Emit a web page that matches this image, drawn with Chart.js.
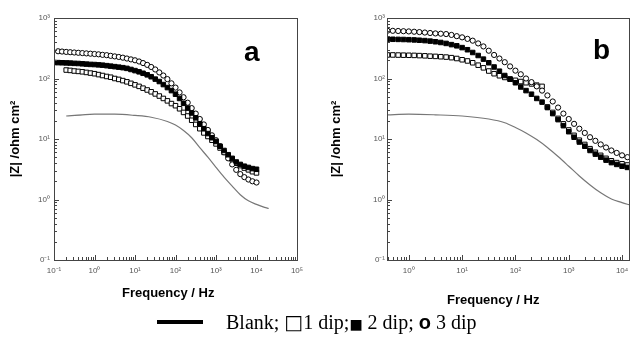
<!DOCTYPE html>
<html>
<head>
<meta charset="utf-8">
<script src="https://cdn.jsdelivr.net/npm/chart.js@4.4.1/dist/chart.umd.min.js"></script>
<style>
  html, body { margin: 0; padding: 0; background: #fff; width: 631px; height: 339px; overflow: hidden; }
  canvas { position: absolute; top: 0; }
  #chartA { left: 0; }
  #chartB { left: 320px; }
  .tag { position: absolute; font: bold 28px Arial, "Liberation Sans", sans-serif; color: #000; line-height: 1; }
  .xtitle { position: absolute; font: bold 13px Arial, "Liberation Sans", sans-serif; color: #000; white-space: nowrap; }
  #legLine { position: absolute; left: 157px; top: 320px; width: 46px; height: 4px; background: #000; }
  #legText { position: absolute; left: 226px; top: 310px; font: 20px "Liberation Serif", "Times New Roman", serif; color: #000; white-space: nowrap; }
</style>
</head>
<body>
<canvas id="chartA" width="315" height="310"></canvas>
<canvas id="chartB" width="340" height="310"></canvas>
<div class="tag" style="left:244px; top:38px;">a</div>
<div class="tag" style="left:593px; top:36px;">b</div>
<div class="xtitle" style="left:122px; top:285px;">Frequency / Hz</div>
<div class="xtitle" style="left:447px; top:292px;">Frequency / Hz</div>
<div id="legLine"></div>
<div id="legText">Blank; <span style="font-family:'DejaVu Sans'">□</span>1 dip;<span style="font-family:'DejaVu Sans';font-size:14px">■</span> 2 dip;  <b style="font-family:Arial">o</b> 3 dip</div>
<script>
// panel a : frequency (Hz), 10 points per decade
var freqA = [0.1, 0.126, 0.158, 0.2, 0.251, 0.316, 0.398, 0.501, 0.631, 0.794,
  1, 1.26, 1.58, 2, 2.51, 3.16, 3.98, 5.01, 6.31, 7.94,
  10, 12.6, 15.8, 20, 25.1, 31.6, 39.8, 50.1, 63.1, 79.4,
  100, 126, 158, 200, 251, 316, 398, 501, 631, 794,
  1000, 1260, 1580, 2000, 2510, 3160, 3980, 5010, 6310, 7940, 10000];

var dip1A = [null, null, null, 138, 136, 133, 131, 129, 126, 123,
  120, 116, 112, 108, 105, 100, 96.6, 92.3, 88.1, 83.2,
  78.5, 74.1, 69.2, 64.6, 60.3, 55.6, 51.3, 46.8, 42.7, 38.5,
  35.5, 31.6, 27.5, 24.0, 20.4, 17.4, 14.8, 12.6, 11.0, 9.55,
  8.3, 7.1, 6.0, 5.25, 4.57, 3.98, 3.63, 3.31, 3.09, 2.88, 2.75];

var dip2A = [184, 183, 182, 181, 180, 178, 177, 175, 173, 171,
  170, 168, 166, 163, 160, 157, 154, 151, 147, 141,
  135, 129, 122, 115, 107, 97.7, 89.1, 79.4, 70.8, 63.1,
  55.0, 46.8, 38.9, 32.4, 26.9, 22.4, 17.8, 14.8, 12.3, 10.5,
  9.1, 7.6, 6.46, 5.5, 4.79, 4.17, 3.8, 3.55, 3.39, 3.24, 3.16];

var dip3A = [null, 282, 279, 275, 272, 269, 266, 263, 260, 257,
  254, 251, 246, 243, 237, 232, 227, 221, 214, 207,
  200, 191, 180, 168, 155, 141, 126, 112, 97.7, 83.2,
  70.8, 58.9, 49.0, 39.8, 32.4, 26.3, 21.4, 17.4, 14.1, 11.5,
  9.55, 7.59, 6.03, 4.79, 3.80, 3.09, 2.63, 2.34, 2.14, 2.00, 1.91];

var blankFreqA = [0.2, 0.5, 1, 3.16, 10, 25.1, 63.1, 100, 158, 251, 398, 631, 1000, 1580, 2510, 3980, 6310, 10000, 15800, 20000];
var blankA = [24.0, 25.1, 25.7, 25.7, 24.5, 22.9, 19.5, 17.0, 13.8, 10.5, 7.2, 5.0, 3.4, 2.34, 1.66, 1.2, 0.95, 0.83, 0.74, 0.71];

// panel b
var freqB = [0.398, 0.501, 0.631, 0.794,
  1, 1.26, 1.58, 2, 2.51, 3.16, 3.98, 5.01, 6.31, 7.94,
  10, 12.6, 15.8, 20, 25.1, 31.6, 39.8, 50.1, 63.1, 79.4,
  100, 126, 158, 200, 251, 316, 398, 501, 631, 794,
  1000, 1260, 1580, 2000, 2510, 3160, 3980, 5010, 6310, 7940, 10000, 12600];

var dip1B = [245, 245, 244, 243,
  242, 241, 239, 237, 234, 232, 229, 226, 221, 214,
  204, 195, 182, 166, 150, 133, 120, 111, 104, 97.7,
  93.3, 89.1, 85.1, 81.3, 77.6, 74.1, 33.9, 27.5, 21.9, 17.8,
  14.1, 11.5, 9.55, 8.13, 6.92, 6.03, 5.37, 4.79, 4.37, 4.07, 3.89, 3.72];

var dip2B = [447, 445, 443, 441,
  438, 434, 429, 423, 415, 405, 394, 380, 363, 347,
  324, 299, 269, 240, 209, 182, 155, 132, 112, 97.7,
  85.1, 72.4, 63.1, 55.0, 46.8, 40.7, 33.1, 26.3, 20.9, 16.6,
  13.2, 10.7, 8.91, 7.59, 6.46, 5.62, 5.01, 4.47, 4.07, 3.80, 3.55, 3.39];

var dip3B = [617, 614, 610, 605,
  600, 593, 585, 575, 565, 556, 550, 543, 525, 501,
  479, 452, 422, 380, 339, 288, 245, 214, 186, 158.5,
  134.9, 117.5, 100, 87.1, 74.1, 63.1, 52.5, 41.7, 33.1, 26.3,
  21.4, 17.8, 14.8, 12.6, 10.7, 9.33, 8.13, 7.24, 6.46, 5.89, 5.37, 5.01];

var blankFreqB = [0.398, 1, 3.16, 10, 31.6, 63.1, 100, 158, 251, 398, 631, 1000, 1580, 2510, 3980, 6310, 10000, 14100];
var blankB = [25.1, 25.7, 25.1, 24.0, 21.4, 18.6, 15.5, 12.6, 9.77, 7.24, 5.13, 3.55, 2.45, 1.74, 1.29, 1.02, 0.89, 0.81];

var xTicksA = [0.1, 1, 10, 100, 1000, 10000, 100000];
var xLabelsA = ["10⁻¹", "10⁰", "10¹", "10²", "10³", "10⁴", "10⁵"];
var xTicksB = [1, 10, 100, 1000, 10000];
var xLabelsB = ["10⁰", "10¹", "10²", "10³", "10⁴"];
var yTicks = [0.1, 1, 10, 100, 1000];
var yLabels = ["0⁻¹", "10⁰", "10¹", "10²", "10³"];

function pts(xs, ys) {
  return xs.map(function (x, i) { return { x: x, y: ys[i] }; });
}

// frame + inward minor/major ticks
var framePlugin = {
  id: "frame",
  afterDraw: function (chart) {
    var ctx = chart.ctx, a = chart.chartArea;
    ctx.save();
    ctx.strokeStyle = "#444";
    ctx.lineWidth = 1;
    ctx.strokeRect(Math.round(a.left) + 0.5, Math.round(a.top) + 0.5,
      Math.round(a.right - a.left), Math.round(a.bottom - a.top));
    ctx.beginPath();
    ["x", "y"].forEach(function (id) {
      var s = chart.scales[id];
      for (var d = -2; d <= 6; d++) {
        for (var k = 1; k <= 9; k++) {
          var v = k * Math.pow(10, d);
          if (v < s.min * 0.999 || v > s.max * 1.001) continue;
          var p = Math.round(s.getPixelForValue(v)) + 0.5;
          var len = k === 1 ? 5 : 3;
          if (id === "x") { ctx.moveTo(p, a.bottom); ctx.lineTo(p, a.bottom - len); }
          else { ctx.moveTo(a.left, p); ctx.lineTo(a.left + len, p); }
        }
      }
    });
    ctx.stroke();
    ctx.restore();
  }
};

function makeChart(id, o) {
  var tickFont = { family: "Arial, 'Liberation Sans', sans-serif", size: 8 };
  return new Chart(document.getElementById(id), {
    type: "scatter",
    data: {
      datasets: [
        { label: "2 dip", data: pts(o.freq, o.dip2), pointStyle: "rect", pointRadius: 3.2,
          backgroundColor: "#000", borderColor: "#000", borderWidth: 1 },
        { label: "3 dip", data: pts(o.freq, o.dip3), pointStyle: "circle", pointRadius: 2.6,
          backgroundColor: "#fff", borderColor: "#000", borderWidth: 1 },
        { label: "1 dip", data: pts(o.freq, o.dip1), pointStyle: "rect", pointRadius: 3.2,
          backgroundColor: "#fff", borderColor: "#000", borderWidth: 1 },
        { label: "Blank", data: pts(o.blankFreq, o.blank), showLine: true, pointRadius: 0,
          borderColor: "#777", borderWidth: 1.2, tension: 0.4, cubicInterpolationMode: "monotone" }
      ]
    },
    options: {
      responsive: false,
      animation: false,
      layout: { padding: { top: 18, right: o.padRight, left: 0, bottom: 0 } },
      plugins: { legend: { display: false }, tooltip: { enabled: false } },
      scales: {
        x: {
          type: "logarithmic", min: o.xmin, max: o.xmax,
          grid: { display: false, drawTicks: false },
          border: { display: false },
          afterBuildTicks: function (s) { s.ticks = o.xTicks.map(function (v) { return { value: v }; }); },
          afterFit: function (s) { s.height = 50; s.paddingLeft = 0; s.paddingRight = 0; },
          ticks: {
            autoSkip: false, maxRotation: 0, padding: 6, color: "#555", font: tickFont,
            callback: function (v) { var i = o.xTicks.indexOf(v); return i < 0 ? "" : o.xLabels[i]; }
          }
        },
        y: {
          type: "logarithmic", min: 0.1, max: 1000,
          grid: { display: false, drawTicks: false },
          border: { display: false },
          afterBuildTicks: function (s) { s.ticks = yTicks.map(function (v) { return { value: v }; }); },
          afterFit: function (s) { s.width = o.yWidth; s.paddingTop = 0; s.paddingBottom = 0; },
          title: {
            display: true, text: "|Z| /ohm cm²", color: "#000",
            font: { family: "Arial, 'Liberation Sans', sans-serif", size: 13, weight: "bold" },
            padding: { top: o.yTitlePad, bottom: 0 }
          },
          ticks: {
            autoSkip: false, padding: o.yTickPad, color: "#555", font: tickFont,
            callback: function (v) { var i = yTicks.indexOf(v); return i < 0 ? "" : yLabels[i]; }
          }
        }
      }
    },
    plugins: [framePlugin]
  });
}

makeChart("chartA", {
  freq: freqA, dip1: dip1A, dip2: dip2A, dip3: dip3A, blankFreq: blankFreqA, blank: blankA,
  xmin: 0.1, xmax: 100000, xTicks: xTicksA, xLabels: xLabelsA,
  padRight: 18, yWidth: 54, yTitlePad: 8, yTickPad: 4
});

makeChart("chartB", {
  freq: freqB, dip1: dip1B, dip2: dip2B, dip3: dip3B, blankFreq: blankFreqB, blank: blankB,
  xmin: 0.39, xmax: 13500, xTicks: xTicksB, xLabels: xLabelsB,
  padRight: 31, yWidth: 67, yTitlePad: 9, yTickPad: 2
});
</script>
</body>
</html>
